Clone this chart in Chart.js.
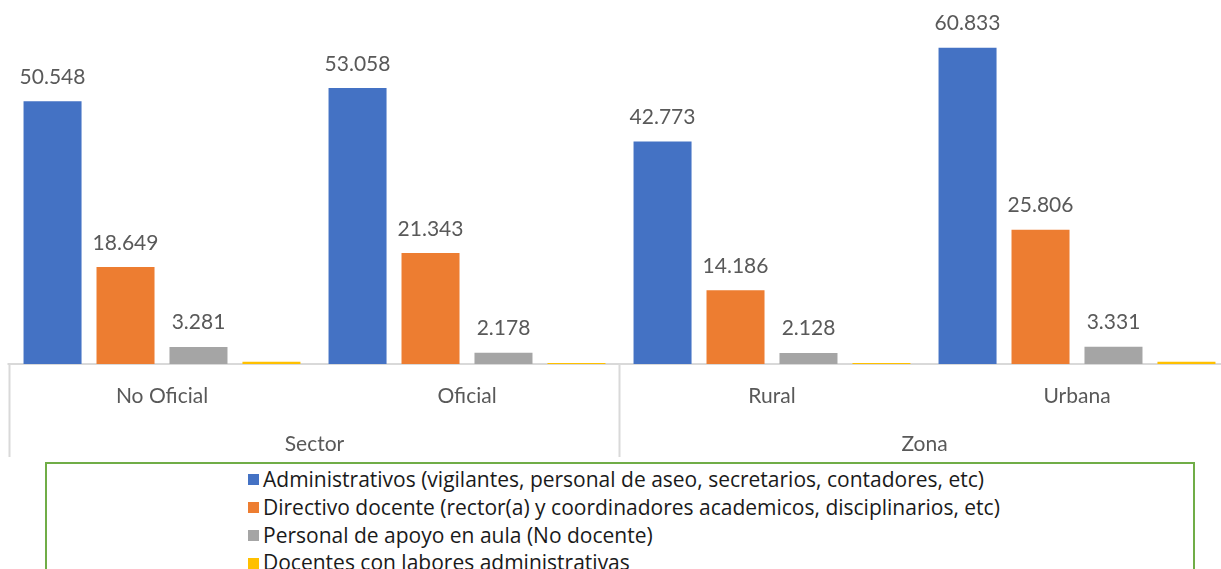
<!DOCTYPE html>
<html>
<head>
<meta charset="utf-8">
<script src="https://cdn.jsdelivr.net/npm/chart.js@4/dist/chart.umd.min.js"></script>
<style>
  html, body { margin: 0; padding: 0; background: #fff; overflow: hidden; width: 1221px; height: 569px; }
  #wrap { position: absolute; left: 0; top: 0; width: 1240px; height: 460px; }
  #legend { position: absolute; left: 45px; top: 462px; width: 1150px; height: 150px; border: 2px solid #70AD47; box-sizing: border-box; padding-top: 2px; padding-left: 201px; font-family: "Open Sans", sans-serif; font-size: 21px; color: #1a1a1a; }
  .li { height: 27.8px; line-height: 27.8px; white-space: nowrap; display: flex; align-items: center; }
  .sw { width: 11px; height: 11px; margin-right: 4px; flex: none; }
</style>
</head>
<body>
<div id="wrap"><canvas id="c" width="1240" height="460"></canvas></div>
<div id="legend"></div>
<script>
const categories = ['No Oficial', 'Oficial', 'Rural', 'Urbana'];
const groups = ['Sector', 'Zona'];
const seriesNames = [
  'Administrativos (vigilantes, personal de aseo, secretarios, contadores, etc)',
  'Directivo docente (rector(a) y coordinadores academicos, disciplinarios, etc)',
  'Personal de apoyo en aula (No docente)',
  'Docentes con labores administrativas'
];
const administrativos = [50548, 53058, 42773, 60833];
const directivos = [18649, 21343, 14186, 25806];
const apoyo = [3281, 2178, 2128, 3331];
const docentesAdmin = [440, 190, 170, 450];
const colors = ['#4472C4', '#ED7D31', '#A5A5A5', '#FFC000'];
const showLabels = [true, true, true, false];

const fmt = v => String(v).replace(/\B(?=(\d{3})+(?!\d))/g, '.');
const FONT = 'Lato, sans-serif';

const axisLines = {
  id: 'axisLines',
  beforeDatasetsDraw(chart) {
    const ctx = chart.ctx, a = chart.chartArea;
    const x = chart.scales.x, x2 = chart.scales.x2;
    ctx.save();
    ctx.strokeStyle = '#D9D9D9';
    ctx.lineWidth = 2;
    ctx.beginPath();
    ctx.moveTo(a.left - 2, a.bottom);
    ctx.lineTo(a.right, a.bottom);
    const edges = [a.left, (x.getPixelForValue(1) + x.getPixelForValue(2)) / 2, a.right];
    edges.forEach(px => { ctx.moveTo(px, a.bottom); ctx.lineTo(px, x2.bottom); });
    ctx.stroke();
    ctx.restore();
  }
};

const valueLabels = {
  id: 'valueLabels',
  afterDatasetsDraw(chart) {
    const ctx = chart.ctx;
    ctx.save();
    ctx.font = '21px ' + FONT;
    ctx.fillStyle = '#595959';
    ctx.textAlign = 'center';
    ctx.textBaseline = 'alphabetic';
    chart.data.datasets.forEach((ds, i) => {
      if (!showLabels[i]) return;
      chart.getDatasetMeta(i).data.forEach((el, j) => {
        ctx.fillText(fmt(ds.data[j]), el.x, el.y - 17.5);
      });
    });
    ctx.restore();
  }
};

const seriesData = [administrativos, directivos, apoyo, docentesAdmin];
const chart = new Chart(document.getElementById('c'), {
  type: 'bar',
  data: {
    labels: categories,
    datasets: seriesData.map((d, i) => ({
      label: seriesNames[i],
      data: d,
      backgroundColor: colors[i],
      borderWidth: 0,
      categoryPercentage: 0.957,
      barPercentage: 0.795
    }))
  },
  options: {
    responsive: false,
    animation: false,
    devicePixelRatio: 1,
    layout: { padding: { left: 9.5, right: 10.5, top: 0, bottom: 3 } },
    plugins: { legend: { display: false }, tooltip: { enabled: false } },
    scales: {
      y: { display: false, min: 0, max: 70000 },
      x: {
        position: 'bottom', weight: 0,
        grid: { display: false, drawTicks: false },
        border: { display: false },
        ticks: { font: { family: FONT, size: 21 }, color: '#595959', padding: 20 },
        afterFit(s) { s.height = 46; }
      },
      x2: {
        type: 'category', labels: groups, position: 'bottom', weight: 1, offset: true,
        grid: { display: false, drawTicks: false },
        border: { display: false },
        ticks: { font: { family: FONT, size: 21 }, color: '#595959', padding: 22 },
        afterFit(s) { s.height = 47; }
      }
    }
  },
  plugins: [axisLines, valueLabels]
});

const leg = document.getElementById('legend');
chart.data.datasets.forEach((ds, i) => {
  const row = document.createElement('div');
  row.className = 'li';
  const sw = document.createElement('span');
  sw.className = 'sw';
  sw.style.background = ds.backgroundColor;
  const t = document.createElement('span');
  t.textContent = ds.label;
  row.appendChild(sw); row.appendChild(t);
  leg.appendChild(row);
});
</script>
</body>
</html>
